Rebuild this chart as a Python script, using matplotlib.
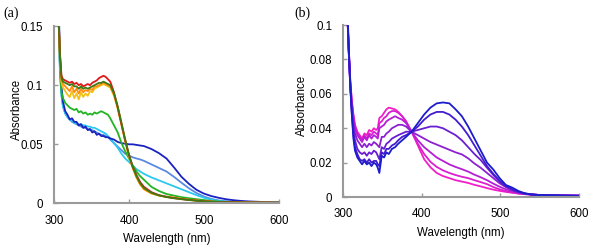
import numpy as np
import matplotlib
matplotlib.use("Agg")
import matplotlib.pyplot as plt
from matplotlib.ticker import FuncFormatter

plt.rcParams['font.family'] = ['Liberation Sans', 'DejaVu Sans']

# ---- panel (a) data ----
wl_a = [304, 306, 308, 310, 312, 315, 318, 321, 324, 327,
        330, 333, 336, 339, 342, 345, 348, 351, 354, 357,
        360, 363, 366, 369, 372, 375, 380, 385, 390, 395,
        400, 405, 410, 415, 420, 430, 440, 450, 460, 470,
        480, 490, 500, 510, 520, 530, 540, 550, 560, 580, 600]

red = [0.20, 0.16, 0.125, 0.108, 0.105, 0.104, 0.103, 0.102, 0.103, 0.101,
       0.102, 0.100, 0.101, 0.099, 0.100, 0.101, 0.100, 0.102, 0.103, 0.104,
       0.106, 0.107, 0.108, 0.107, 0.105, 0.103, 0.094, 0.081, 0.067, 0.053,
       0.041, 0.031, 0.024, 0.018, 0.014, 0.0095, 0.007, 0.0055, 0.0045, 0.0037,
       0.003, 0.0024, 0.0019, 0.0015, 0.0012, 0.0011, 0.001, 0.0009, 0.0008, 0.0007, 0.0006]

olive = [0.20, 0.16, 0.124, 0.106, 0.103, 0.102, 0.101, 0.100, 0.101, 0.099,
         0.099, 0.097, 0.099, 0.097, 0.098, 0.097, 0.098, 0.099, 0.100, 0.101,
         0.102, 0.102, 0.103, 0.102, 0.101, 0.100, 0.093, 0.082, 0.068, 0.054,
         0.041, 0.031, 0.023, 0.017, 0.013, 0.009, 0.0068, 0.0054, 0.0044, 0.0036,
         0.0029, 0.0023, 0.0018, 0.0014, 0.0011, 0.001, 0.0009, 0.0008, 0.0008, 0.0007, 0.0006]

orange = [0.20, 0.16, 0.122, 0.104, 0.101, 0.099, 0.097, 0.095, 0.099, 0.094,
          0.097, 0.093, 0.097, 0.094, 0.096, 0.095, 0.097, 0.096, 0.099, 0.099,
          0.100, 0.101, 0.102, 0.101, 0.100, 0.099, 0.092, 0.081, 0.067, 0.053,
          0.040, 0.030, 0.022, 0.016, 0.012, 0.0085, 0.0068, 0.0058, 0.005, 0.004,
          0.0032, 0.0025, 0.0019, 0.0015, 0.0011, 0.001, 0.0009, 0.0008, 0.0008, 0.0007, 0.0006]

gold = [0.20, 0.16, 0.12, 0.102, 0.098, 0.095, 0.092, 0.090, 0.095, 0.089,
        0.093, 0.088, 0.094, 0.090, 0.093, 0.091, 0.095, 0.094, 0.097, 0.098,
        0.099, 0.100, 0.101, 0.100, 0.099, 0.098, 0.091, 0.080, 0.066, 0.052,
        0.040, 0.030, 0.022, 0.016, 0.012, 0.0085, 0.0066, 0.0055, 0.0047, 0.0038,
        0.003, 0.0024, 0.0019, 0.0015, 0.0011, 0.001, 0.0009, 0.0008, 0.0008, 0.0007, 0.0006]

green = [0.20, 0.16, 0.115, 0.094, 0.089, 0.085, 0.083, 0.081, 0.080, 0.079,
         0.080, 0.077, 0.078, 0.076, 0.077, 0.075, 0.076, 0.075, 0.077, 0.076,
         0.077, 0.078, 0.077, 0.076, 0.075, 0.072, 0.066, 0.060, 0.051, 0.044,
         0.038, 0.032, 0.027, 0.023, 0.020, 0.014, 0.0105, 0.008, 0.0066, 0.0053,
         0.0044, 0.0036, 0.0028, 0.0021, 0.0016, 0.0012, 0.001, 0.0009, 0.0008, 0.0007, 0.0006]

cyan = [0.20, 0.16, 0.11, 0.092, 0.082, 0.076, 0.073, 0.071, 0.070, 0.068,
        0.068, 0.067, 0.067, 0.066, 0.066, 0.065, 0.065, 0.064, 0.064, 0.063,
        0.062, 0.061, 0.060, 0.059, 0.057, 0.055, 0.051, 0.047, 0.042, 0.038,
        0.035, 0.032, 0.029, 0.027, 0.025, 0.022, 0.0195, 0.017, 0.0145, 0.012,
        0.0095, 0.007, 0.0048, 0.0032, 0.002, 0.0015, 0.0012, 0.001, 0.0009, 0.0008, 0.0007]

cornflower = [0.20, 0.16, 0.11, 0.091, 0.082, 0.076, 0.073, 0.071, 0.069, 0.068,
              0.067, 0.066, 0.065, 0.064, 0.064, 0.063, 0.062, 0.062, 0.061, 0.060,
              0.059, 0.058, 0.058, 0.057, 0.056, 0.054, 0.051, 0.048, 0.045, 0.042,
              0.0405, 0.039, 0.038, 0.0372, 0.036, 0.033, 0.030, 0.027, 0.0225, 0.0175,
              0.0128, 0.0088, 0.0058, 0.0038, 0.0025, 0.0018, 0.0014, 0.0011, 0.001, 0.0008, 0.0007]

darkblue = [0.20, 0.17, 0.127, 0.099, 0.086, 0.078, 0.075, 0.071, 0.072, 0.069,
            0.069, 0.066, 0.067, 0.064, 0.065, 0.062, 0.063, 0.060, 0.061, 0.058,
            0.059, 0.057, 0.057, 0.056, 0.056, 0.055, 0.054, 0.052, 0.051, 0.0505,
            0.050, 0.050, 0.0495, 0.049, 0.0485, 0.046, 0.0425, 0.038, 0.0305, 0.0225,
            0.0165, 0.0115, 0.0083, 0.0062, 0.0047, 0.0035, 0.0027, 0.0021, 0.0017, 0.0012, 0.001]

# ---- panel (b) data ----
wl_b = [305, 307, 309, 311, 313, 315, 318, 321, 324, 327,
        330, 333, 336, 339, 342, 344, 346, 349, 352, 355,
        358, 362, 366, 370, 375, 380, 387, 395, 403, 411,
        419, 427, 435, 443, 451, 459, 467, 475, 483, 491,
        499, 507, 515, 523, 531, 540, 550, 565, 580, 600]

b1 = [0.11, 0.087, 0.068, 0.056, 0.048, 0.042, 0.038, 0.036, 0.034, 0.037,
      0.036, 0.039, 0.038, 0.040, 0.039, 0.040, 0.046, 0.047, 0.049, 0.051,
      0.052, 0.0515, 0.051, 0.0495, 0.047, 0.044, 0.038, 0.030, 0.022, 0.0173,
      0.014, 0.0122, 0.011, 0.0098, 0.009, 0.0082, 0.0071, 0.0062, 0.0052, 0.0043,
      0.0036, 0.003, 0.0025, 0.002, 0.0017, 0.0014, 0.0012, 0.001, 0.0009, 0.0008]

b2 = [0.11, 0.086, 0.067, 0.055, 0.047, 0.041, 0.037, 0.035, 0.033, 0.036,
      0.034, 0.037, 0.036, 0.038, 0.037, 0.036, 0.043, 0.044, 0.046, 0.047,
      0.049, 0.050, 0.050, 0.049, 0.047, 0.044, 0.038, 0.031, 0.025, 0.0205,
      0.0175, 0.0155, 0.014, 0.0128, 0.0118, 0.011, 0.0098, 0.0087, 0.0075, 0.0058,
      0.0045, 0.0035, 0.0027, 0.0021, 0.0017, 0.0014, 0.0012, 0.001, 0.0009, 0.0008]

b3 = [0.11, 0.085, 0.066, 0.054, 0.046, 0.040, 0.036, 0.034, 0.032, 0.035,
      0.033, 0.036, 0.034, 0.036, 0.035, 0.034, 0.040, 0.041, 0.042, 0.044,
      0.045, 0.046, 0.047, 0.046, 0.045, 0.043, 0.038, 0.033, 0.029, 0.026,
      0.023, 0.021, 0.019, 0.0175, 0.0162, 0.0148, 0.013, 0.0115, 0.0098, 0.0078,
      0.006, 0.0045, 0.0033, 0.0025, 0.0019, 0.0015, 0.0012, 0.001, 0.0009, 0.0008]

b4 = [0.11, 0.085, 0.065, 0.052, 0.043, 0.037, 0.033, 0.031, 0.029, 0.031,
      0.029, 0.031, 0.030, 0.032, 0.031, 0.030, 0.029, 0.035, 0.035, 0.037,
      0.038, 0.040, 0.041, 0.042, 0.042, 0.041, 0.038, 0.036, 0.034, 0.032,
      0.0305, 0.029, 0.0275, 0.026, 0.0248, 0.0225, 0.0195, 0.017, 0.014, 0.011,
      0.008, 0.0058, 0.004, 0.0028, 0.002, 0.0015, 0.0012, 0.001, 0.0009, 0.0008]

b5 = [0.11, 0.085, 0.064, 0.050, 0.040, 0.033, 0.028, 0.026, 0.025, 0.026,
      0.024, 0.026, 0.025, 0.027, 0.026, 0.024, 0.022, 0.029, 0.028, 0.031,
      0.032, 0.034, 0.035, 0.036, 0.037, 0.038, 0.038, 0.039, 0.040, 0.041,
      0.041, 0.040, 0.038, 0.036, 0.033, 0.029, 0.025, 0.0215, 0.017, 0.0128,
      0.009, 0.006, 0.0042, 0.0028, 0.002, 0.0014, 0.0012, 0.001, 0.0009, 0.0008]

b6 = [0.112, 0.086, 0.064, 0.048, 0.036, 0.029, 0.025, 0.022, 0.021, 0.022,
      0.020, 0.022, 0.020, 0.021, 0.021, 0.019, 0.018, 0.026, 0.025, 0.028,
      0.028, 0.030, 0.031, 0.033, 0.035, 0.036, 0.038, 0.041, 0.045, 0.048,
      0.0495, 0.0495, 0.048, 0.045, 0.041, 0.036, 0.030, 0.024, 0.018, 0.0135,
      0.0095, 0.0065, 0.0045, 0.003, 0.002, 0.0014, 0.0011, 0.0009, 0.0008, 0.0007]

b7 = [0.115, 0.088, 0.066, 0.048, 0.034, 0.027, 0.023, 0.021, 0.019, 0.021,
      0.019, 0.020, 0.018, 0.020, 0.019, 0.017, 0.014, 0.024, 0.023, 0.026,
      0.025, 0.028, 0.029, 0.031, 0.033, 0.035, 0.038, 0.043, 0.048, 0.052,
      0.0545, 0.055, 0.0545, 0.051, 0.047, 0.041, 0.034, 0.027, 0.020, 0.016,
      0.011, 0.007, 0.0055, 0.0035, 0.0022, 0.0015, 0.0012, 0.001, 0.0008, 0.0007]

curves_a = [(cornflower, '#5a8ae0'), (cyan, '#2cc8f0'), (darkblue, '#1a22c0'),
            (green, '#22b422'), (gold, '#f2c21a'), (orange, '#ff8c10'),
            (red, '#e01818'), (olive, '#3c7a14')]
curves_b = [(b1, '#f21ec8'), (b2, '#da1ed0'), (b3, '#b41ed4'), (b4, '#8c20d2'),
            (b5, '#6a1ed2'), (b6, '#441cd0'), (b7, '#1c1ccc')]

grey = '#9a9a9a'
fs = 8.3


def style(ax, ylim, yticks, ylab_x):
    ax.set_xlim(300, 600)
    ax.set_ylim(*ylim)
    ax.set_xticks([300, 400, 500, 600])
    ax.set_yticks(yticks)
    ax.yaxis.set_major_formatter(FuncFormatter(lambda v, p: '%g' % round(v, 4)))
    for s in ['top', 'right']:
        ax.spines[s].set_visible(False)
    for s in ['left', 'bottom']:
        ax.spines[s].set_color(grey)
        ax.spines[s].set_linewidth(1.5)
    ax.tick_params(direction='in', length=3, width=1, color=grey,
                   labelsize=fs, pad=8)
    ax.set_xlabel('Wavelength (nm)', fontsize=fs, labelpad=5)
    ax.set_ylabel('Absorbance', fontsize=fs)
    ax.yaxis.set_label_coords(ylab_x, 0.53)


fig = plt.figure(figsize=(6.0, 2.46), dpi=100)
ax1 = fig.add_axes([0.09, 0.173, 0.375, 0.721])
ax2 = fig.add_axes([0.572, 0.199, 0.393, 0.699])

for ys, c in curves_a:
    ax1.plot(wl_a, ys, color=c, lw=1.3)
for ys, c in curves_b:
    ax2.plot(wl_b, ys, color=c, lw=1.3)

style(ax1, (0, 0.15), [0, 0.05, 0.1, 0.15], -0.138)
style(ax2, (0, 0.1), [0, 0.02, 0.04, 0.06, 0.08, 0.1], -0.148)

fig.text(0.006, 0.93, '(a)', family='Liberation Serif', fontsize=10)
fig.text(0.490, 0.93, '(b)', family='Liberation Serif', fontsize=10)

fig.savefig('out.png', dpi=100)
